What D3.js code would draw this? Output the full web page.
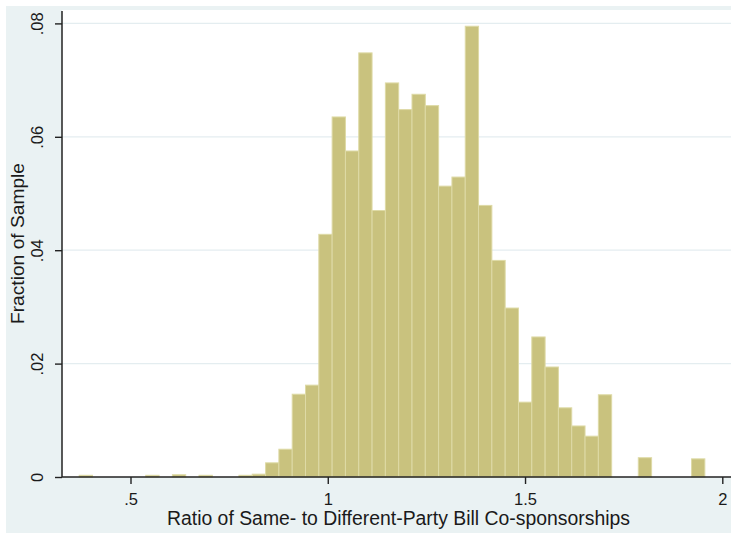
<!DOCTYPE html>
<html>
<head>
<meta charset="utf-8">
<script src="https://cdn.jsdelivr.net/npm/d3@7"></script>
<style>
  body { margin: 0; background: #fff; }
  svg { display: block; }
  text { font-family: "Liberation Sans", Arial, sans-serif; fill: #1a1a1a; }
</style>
</head>
<body>
<svg id="chart" width="731" height="533"></svg>
<script>
// histogram bins: lower edge of first bin and bin width (ratio units)
var binStart = 0.370;
var binWidth = 0.03374;
// fraction of sample in each bin, left to right
var fractions = [
    0.0003, 0, 0, 0, 0, 0.0003, 0, 0.0004, 0, 0.0003,
    0, 0, 0.0003, 0.0005, 0.0025, 0.0049, 0.0146, 0.0162, 0.0428, 0.0635,
    0.0575, 0.0748, 0.0470, 0.0695, 0.0648, 0.0675, 0.0655, 0.0513, 0.0529, 0.0795,
    0.0479, 0.0382, 0.0298, 0.0132, 0.0247, 0.0194, 0.0122, 0.0090, 0.0072, 0.0145,
    0, 0, 0.0034, 0, 0, 0, 0.0032
];

var xTicks = [0.5, 1, 1.5, 2];
var xTickLabels = [".5", "1", "1.5", "2"];
var yTicks = [0, 0.02, 0.04, 0.06, 0.08];
var yTickLabels = ["0", ".02", ".04", ".06", ".08"];

var xTitle = "Ratio of Same- to Different-Party Bill Co-sponsorships";
var yTitle = "Fraction of Sample";

var svg = d3.select("#chart");

var plotLeft = 62, plotRight = 731, plotTop = 10, plotBottom = 477;

var xScale = d3.scaleLinear().domain([0.5, 2]).range([130.5, 722.3]);
var yScale = d3.scaleLinear().domain([0, 0.08]).range([477, 23.4]);

// outer graph region
svg.append("rect")
    .attr("x", 6).attr("y", 6)
    .attr("width", 731 - 6).attr("height", 533 - 6)
    .attr("fill", "#eaf2f3");

// plot region
svg.append("rect")
    .attr("x", plotLeft).attr("y", plotTop)
    .attr("width", plotRight - plotLeft).attr("height", plotBottom - plotTop)
    .attr("fill", "#ffffff");

// grid lines
svg.selectAll(".grid")
    .data(yTicks.filter(function (d) { return d > 0; }))
    .enter()
    .append("line")
    .attr("class", "grid")
    .attr("x1", plotLeft).attr("x2", plotRight)
    .attr("y1", function (d) { return yScale(d); })
    .attr("y2", function (d) { return yScale(d); })
    .attr("stroke", "#e4edf0")
    .attr("stroke-width", 1.3);

// bars
svg.selectAll(".bar")
    .data(fractions.map(function (f, i) {
        return {x0: binStart + i * binWidth, x1: binStart + (i + 1) * binWidth, f: f};
    }).filter(function (d) { return d.f > 0; }))
    .enter()
    .append("rect")
    .attr("class", "bar")
    .attr("x", function (d) { return xScale(d.x0); })
    .attr("width", function (d) { return xScale(d.x1) - xScale(d.x0); })
    .attr("y", function (d) { return yScale(d.f); })
    .attr("height", function (d) { return yScale(0) - yScale(d.f); })
    .attr("fill", "#c9c27e")
    .attr("stroke", "#dedaa6")
    .attr("stroke-width", 1);

// y axis
var yAxis = d3.axisLeft(yScale)
    .tickValues(yTicks)
    .tickSize(7)
    .tickPadding(0)
    .tickFormat(function (d, i) { return yTickLabels[i]; });

var gy = svg.append("g")
    .attr("transform", "translate(" + plotLeft + ",0)")
    .call(yAxis);
gy.select(".domain").remove();
gy.selectAll("line").attr("stroke", "#222").attr("stroke-width", 1.4);
gy.selectAll("text")
    .attr("transform", "rotate(-90)")
    .attr("x", 0).attr("y", -19).attr("dy", 0)
    .attr("text-anchor", "middle")
    .style("font-size", "16.5px")
    .style("font-family", null);
gy.append("line")
    .attr("x1", 0).attr("x2", 0)
    .attr("y1", plotTop + 1).attr("y2", plotBottom)
    .attr("stroke", "#222").attr("stroke-width", 1.5);

// x axis
var xAxis = d3.axisBottom(xScale)
    .tickValues(xTicks)
    .tickSize(7)
    .tickPadding(0)
    .tickFormat(function (d, i) { return xTickLabels[i]; });

var gx = svg.append("g")
    .attr("transform", "translate(0," + plotBottom + ")")
    .call(xAxis);
gx.select(".domain").remove();
gx.selectAll("line").attr("stroke", "#222").attr("stroke-width", 1.4);
gx.selectAll("text")
    .attr("y", 28).attr("dy", 0)
    .style("font-size", "16.5px")
    .style("font-family", null);
gx.append("line")
    .attr("x1", plotLeft).attr("x2", plotRight)
    .attr("y1", 0).attr("y2", 0)
    .attr("stroke", "#222").attr("stroke-width", 1.5);

// titles
svg.append("text")
    .attr("x", (plotLeft + plotRight) / 2 + 2)
    .attr("y", 525)
    .attr("text-anchor", "middle")
    .style("font-size", "19.4px")
    .text(xTitle);

svg.append("text")
    .attr("transform", "translate(23.5," + (plotTop + plotBottom) / 2 + ") rotate(-90)")
    .attr("text-anchor", "middle")
    .style("font-size", "19.2px")
    .text(yTitle);
</script>
</body>
</html>
